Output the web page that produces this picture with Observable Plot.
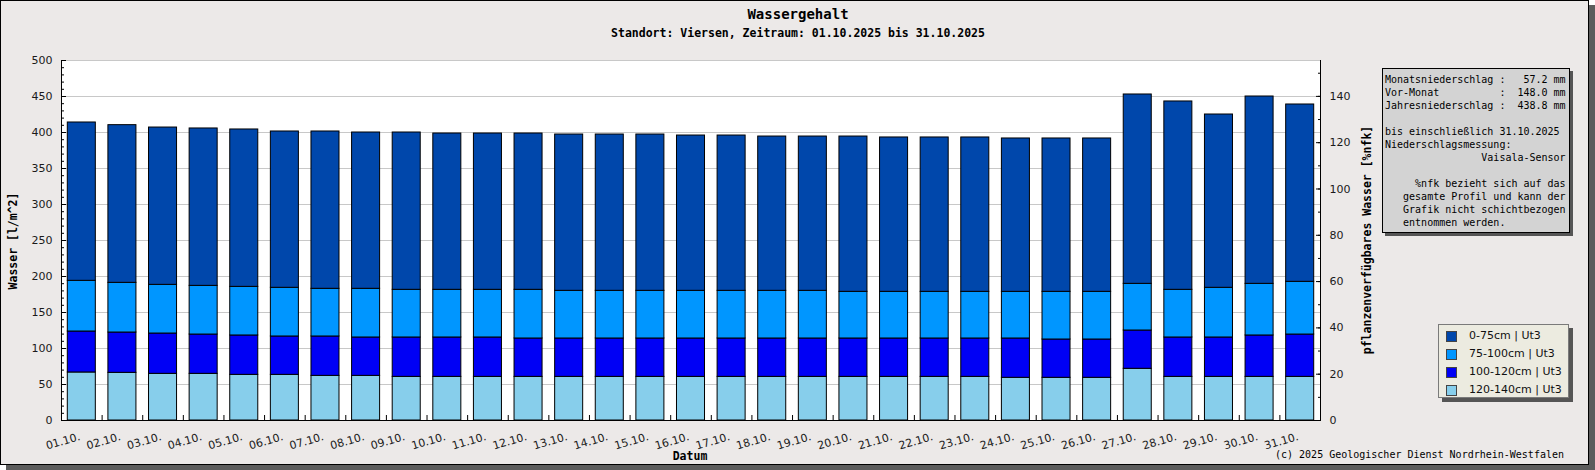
<!DOCTYPE html>
<html><head><meta charset="utf-8">
<script src="https://cdn.jsdelivr.net/npm/d3@7"></script>
<script src="https://cdn.jsdelivr.net/npm/@observablehq/plot@0.6"></script>
<style>
body{margin:0;background:#fff;}
#wrap{position:relative;width:1595px;height:470px;overflow:hidden;}
#frame{position:absolute;left:0;top:0;width:1587px;height:463px;border:1px solid #000;background:#ece9e8;box-shadow:6px 5px 0 #5c5c5c;}
.mono{font-family:"DejaVu Sans Mono",monospace;color:#000;}
.abs{position:absolute;white-space:pre;}
.c{transform:translate(-50%,-50%);}
#chart{position:absolute;left:0;top:0;}
#info{position:absolute;left:1382px;top:68px;width:184px;height:159px;padding:4px 0 0 2px;box-sizing:content-box;border:1px solid #000;background:#d3d3d3;box-shadow:3px 3px 0 #555;font-size:10px;line-height:13px;}
#legend{position:absolute;left:1438px;top:324px;width:129px;height:72px;border:1px solid #7a7a7a;background:#ecebe0;box-shadow:4px 4px 0 #555;font-family:"DejaVu Sans",sans-serif;font-size:11px;color:#111;}
.row{position:absolute;left:0;height:18px;width:129px;}
.sw{position:absolute;left:7px;top:3px;width:9px;height:9px;border:1px solid #444;}
.lt{position:absolute;left:30px;top:0;line-height:15px;}
</style>
</head><body>
<div id="wrap">
  <div id="frame"></div>
  <div class="abs mono c" style="left:798px;top:14px;font-size:14px;font-weight:bold;" id="title"></div>
  <div class="abs mono c" style="left:798px;top:33px;font-size:11.5px;font-weight:bold;" id="subtitle"></div>
  <div id="chart"></div>
  <div class="abs mono c" style="left:13px;top:241px;font-size:11.5px;font-weight:bold;transform:translate(-50%,-50%) rotate(-90deg);" id="ylabL"></div>
  <div class="abs mono c" style="left:1367px;top:240px;font-size:11.5px;font-weight:bold;transform:translate(-50%,-50%) rotate(-90deg);" id="ylabR"></div>
  <div class="abs mono c" style="left:690px;top:456px;font-size:11.5px;font-weight:bold;" id="xlab"></div>
  <div class="abs mono" style="left:1275px;top:449px;font-size:10px;line-height:12px;" id="copy"></div>
  <div id="info" class="mono abs"></div>
  <div id="legend"></div>
</div>
<script>
// ---- data ----
const dates = ["01.10.","02.10.","03.10.","04.10.","05.10.","06.10.","07.10.","08.10.","09.10.","10.10.","11.10.","12.10.","13.10.","14.10.","15.10.","16.10.","17.10.","18.10.","19.10.","20.10.","21.10.","22.10.","23.10.","24.10.","25.10.","26.10.","27.10.","28.10.","29.10.","30.10.","31.10."];
const layers = ["0-75cm | Ut3","75-100cm | Ut3","100-120cm | Ut3","120-140cm | Ut3"];
const w0_75    = [219.9,219.0,218.5,218.6,218.6,217.1,218.5,217.1,218.5,217.1,217.1,217.1,217.1,217.1,217.1,215.7,215.7,214.3,214.3,215.7,214.4,214.4,214.4,213.0,213.0,213.0,263.0,261.6,240.7,260.2,246.3];
const w75_100  = [70.4,69.0,67.6,67.6,67.5,67.6,66.2,67.6,66.2,66.2,66.2,67.6,66.2,66.2,66.2,66.2,66.2,66.2,66.2,64.8,64.8,64.8,64.8,64.8,66.2,66.2,64.8,66.2,69.0,71.7,73.2];
const w100_120 = [56.9,56.0,56.0,54.6,54.7,53.3,54.7,53.3,54.7,54.7,54.7,53.3,53.3,53.3,53.3,53.3,53.3,53.3,53.3,53.3,53.3,53.3,53.3,54.6,53.2,53.2,53.2,54.7,54.7,57.5,58.8];
const w120_140 = [66.7,66.2,64.8,64.8,63.4,63.4,62.0,62.0,60.6,60.6,60.6,60.6,60.6,60.6,60.6,60.6,60.6,60.6,60.6,60.6,60.6,60.6,60.6,59.3,59.3,59.3,71.8,60.6,60.6,60.6,60.6];
const colors = ["#0047ab","#0096ff","#0000f5","#87ceeb"];
const yTicks = [0,50,100,150,200,250,300,350,400,450,500];
const yMinorTicks = [0,10,20,30,40,50,60,70,80,90,100,110,120,130,140,150,160,170,180,190,200,210,220,230,240,250,260,270,280,290,300,310,320,330,340,350,360,370,380,390,400,410,420,430,440,450,460,470,480,490,500];
const nfkTicks = [0,20,40,60,80,100,120,140];
const nfkMinorTicks = [0,10,20,30,40,50,60,70,80,90,100,110,120,130,140,150];
const yMax = 500, nfkMax = 155.5;
const monatsNS = "57.2", vorMonatNS = "148.0", jahresNS = "438.8";

// ---- texts ----
document.getElementById("title").textContent = "Wassergehalt";
document.getElementById("subtitle").textContent = "Standort: Viersen, Zeitraum: 01.10.2025 bis 31.10.2025";
document.getElementById("ylabL").textContent = "Wasser [l/m^2]";
document.getElementById("ylabR").textContent = "pflanzenverfügbares Wasser [%nfk]";
document.getElementById("xlab").textContent = "Datum";
document.getElementById("copy").textContent = "(c) 2025 Geologischer Dienst Nordrhein-Westfalen";
const pad = (s,n) => s.padStart(n," ");
document.getElementById("info").textContent =
  "Monatsniederschlag : " + pad(monatsNS,6) + " mm\n" +
  "Vor-Monat          : " + pad(vorMonatNS,6) + " mm\n" +
  "Jahresniederschlag : " + pad(jahresNS,6) + " mm\n\n" +
  "bis einschließlich 31.10.2025\n" +
  "Niederschlagsmessung:\n" +
  pad("Vaisala-Sensor",30) + "\n\n" +
  pad("%nfk bezieht sich auf das",30) + "\n" +
  pad("gesamte Profil und kann der",30) + "\n" +
  pad("Grafik nicht schichtbezogen",30) + "\n" +
  "   entnommen werden.";
const leg = document.getElementById("legend");
layers.forEach((l,i) => {
  const r = document.createElement("div"); r.className = "row"; r.style.top = (3 + i*18) + "px";
  const s = document.createElement("div"); s.className = "sw"; s.style.background = colors[i];
  const t = document.createElement("div"); t.className = "lt"; t.textContent = l;
  r.appendChild(s); r.appendChild(t); leg.appendChild(r);
});

// ---- chart ----
const rows = [];
dates.forEach((d,i) => {
  rows.push({date:d, layer:layers[3], value:w120_140[i]});
  rows.push({date:d, layer:layers[2], value:w100_120[i]});
  rows.push({date:d, layer:layers[1], value:w75_100[i]});
  rows.push({date:d, layer:layers[0], value:w0_75[i]});
});
const W = 1595, H = 470, mL = 61, mR = 275, mT = 60, mB = 50;
const step = (W - mL - mR) / dates.length;
const tickUnits = 5 * yMax / (H - mT - mB);
const toY = p => p * yMax / nfkMax;

const chart = Plot.plot({
  width: W, height: H,
  marginLeft: mL, marginRight: mR, marginTop: mT, marginBottom: mB,
  style: {background: "transparent", fontFamily: "DejaVu Sans, sans-serif", fontSize: "11px", color: "#1a1a1a", overflow: "visible"},
  x: {type: "band", domain: dates, paddingInner: 0.31, paddingOuter: 0.155, round: false, label: null},
  y: {domain: [0, yMax], label: null},
  color: {domain: layers, range: colors},
  marks: [
    Plot.frame({fill: "white", stroke: null}),
    Plot.ruleY(yTicks, {stroke: "#c8c8c8"}),
    Plot.barY(rows, {x: "date", y: "value", fill: "layer", stroke: "black", strokeWidth: 1, order: [layers[3], layers[2], layers[1], layers[0]]}),
    Plot.frame({stroke: "black", fill: "none"}),
    Plot.ruleY([yMax], {stroke: "#c8c8c8"}),
    Plot.axisY({ticks: yTicks, tickSize: 0, tickPadding: 9, label: null}),
    Plot.axisY({ticks: yTicks, tickSize: -5, fill: "none", label: null, stroke: "black"}),
    Plot.axisY({ticks: yMinorTicks, tickSize: -3, fill: "none", label: null, stroke: "black"}),
    Plot.axisY({anchor: "right", ticks: nfkTicks.map(toY), tickFormat: v => String(Math.round(v * nfkMax / yMax)), tickSize: 0, tickPadding: 9, label: null}),
    Plot.axisY({anchor: "right", ticks: nfkTicks.map(toY), tickSize: -5, fill: "none", label: null, stroke: "black"}),
    Plot.axisY({anchor: "right", ticks: nfkMinorTicks.map(toY), tickSize: -3, fill: "none", label: null, stroke: "black"}),
    Plot.axisX({tickSize: 0, tickRotate: -16, tickPadding: 16, textAnchor: "end", lineAnchor: "middle", dx: -2, label: null}),
    Plot.ruleX(dates.slice(0, -1), {x: d => d, dx: step / 2, y1: 0, y2: tickUnits, stroke: "black"})
  ]
});
document.getElementById("chart").appendChild(chart);
</script>
</body></html>
